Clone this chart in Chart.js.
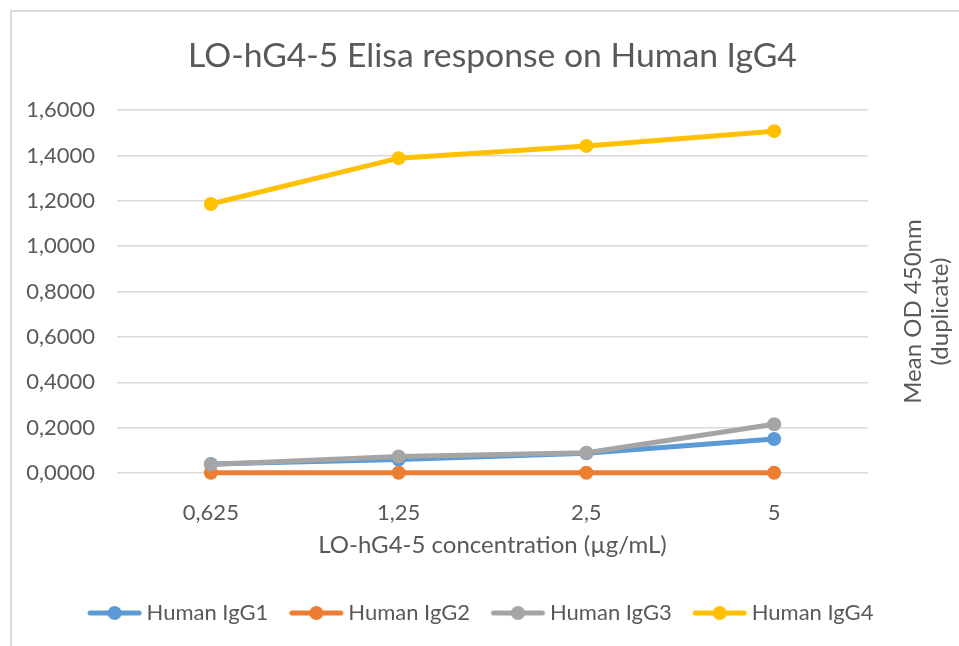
<!DOCTYPE html>
<html>
<head>
<meta charset="utf-8">
<script src="https://cdn.jsdelivr.net/npm/chart.js@4"></script>
<style>
  html, body { margin: 0; padding: 0; background: #fff; overflow: hidden; }
  #frame { position: absolute; left: 10px; top: 10px; width: 1000px; height: 700px; border: 2px solid #d9d9d9; }
  #myChart { position: absolute; left: 0; top: 0; }
</style>
</head>
<body>
<div id="frame"></div>
<canvas id="myChart" width="959" height="646"></canvas>
<script>
const concentrations = ['0,625', '1,25', '2,5', '5'];
const igg1 = [0.040, 0.059, 0.087, 0.150];
const igg2 = [0.001, 0.001, 0.001, 0.001];
const igg3 = [0.038, 0.073, 0.089, 0.215];
const igg4 = [1.186, 1.388, 1.442, 1.507];
const seriesNames = ['Human IgG1', 'Human IgG2', 'Human IgG3', 'Human IgG4'];
const seriesColors = ['#5B9BD5', '#ED7D31', '#A5A5A5', '#FFC000'];
const chartTitle = 'LO-hG4-5 Elisa response on Human IgG4';
const xTitle = 'LO-hG4-5 concentration (µg/mL)';
const yTitleLines = ['Mean OD 450nm', '(duplicate)'];

const fontName = 'Lato, sans-serif';
const textColor = '#595959';

// line+dot symbol for the legend, padded on the left so it sits close to its text
function legendSymbol(color) {
    var c = document.createElement('canvas');
    c.width = 70; c.height = 16;
    var g = c.getContext('2d');
    g.strokeStyle = color;
    g.lineWidth = 5;
    g.lineCap = 'round';
    g.beginPath(); g.moveTo(17, 8); g.lineTo(66, 8); g.stroke();
    g.fillStyle = color;
    g.beginPath(); g.arc(41.5, 8, 7, 0, Math.PI * 2); g.fill();
    return c;
}

const allValues = [igg1, igg2, igg3, igg4];
var datasets = [];
for (var i = 0; i < allValues.length; i++) {
    datasets.push({
        label: seriesNames[i],
        data: allValues[i],
        borderColor: seriesColors[i],
        backgroundColor: seriesColors[i],
        borderWidth: 5,
        pointRadius: 7,
        pointHoverRadius: 7,
        pointBorderWidth: 0,
        clip: false,
        order: allValues.length - i
    });
}

const sideTitle = {
    id: 'sideTitle',
    afterDraw(chart) {
        const ctx = chart.ctx, area = chart.chartArea;
        ctx.save();
        ctx.translate(area.right + 59, (area.top + area.bottom) / 2 + 20);
        ctx.rotate(-Math.PI / 2);
        ctx.font = '24px ' + fontName;
        ctx.fillStyle = textColor;
        ctx.textAlign = 'center';
        ctx.textBaseline = 'middle';
        for (var i = 0; i < yTitleLines.length; i++) {
            ctx.fillText(yTitleLines[i], 0, (i - 0.5) * 27);
        }
        ctx.restore();
    }
};

var config = {
    type: 'line',
    data: { labels: concentrations, datasets: datasets },
    plugins: [sideTitle],
    options: {
        responsive: false,
        animation: false,
        layout: { padding: { left: 11, right: 16, top: 11, bottom: 12 } },
        plugins: {
            title: {
                display: true,
                text: chartTitle,
                fullSize: false,
                color: textColor,
                font: { family: fontName, size: 33.7, weight: 'normal' },
                padding: { top: 24.8, bottom: 33.8 }
            },
            legend: {
                position: 'bottom',
                labels: {
                    color: textColor,
                    font: { family: fontName, size: 22 },
                    usePointStyle: true,
                    pointStyleWidth: 55,
                    padding: 14,
                    sort: (a, b) => a.datasetIndex - b.datasetIndex,
                    generateLabels: function (chart) {
                        var items = Chart.defaults.plugins.legend.labels.generateLabels(chart);
                        items.forEach(function (it) {
                            it.pointStyle = legendSymbol(seriesColors[it.datasetIndex]);
                        });
                        return items;
                    }
                }
            },
            tooltip: { enabled: false }
        },
        scales: {
            x: {
                offset: true,
                grid: { display: false },
                border: { display: false },
                ticks: { color: textColor, font: { family: fontName, size: 22 }, padding: 19 },
                title: {
                    display: true, text: xTitle, color: textColor,
                    font: { family: fontName, size: 24 },
                    padding: { top: 0, bottom: 28.6 }
                },
                afterFit: s => { s.height = 115; }
            },
            y: {
                min: 0, max: 1.6,
                grid: { color: '#d9d9d9', lineWidth: 1.5, drawTicks: false },
                border: { display: false },
                ticks: {
                    stepSize: 0.2,
                    padding: 22,
                    color: textColor,
                    font: { family: fontName, size: 22 },
                    callback: v => v.toFixed(4).replace('.', ',')
                },
                afterFit: s => { s.width = 106; }
            },
            y2: {
                position: 'right',
                display: true,
                grid: { display: false },
                border: { display: false },
                ticks: { display: false },
                afterFit: s => { s.width = 75; }
            }
        }
    }
};

const myChart = new Chart(document.getElementById('myChart'), config);
</script>
</body>
</html>
